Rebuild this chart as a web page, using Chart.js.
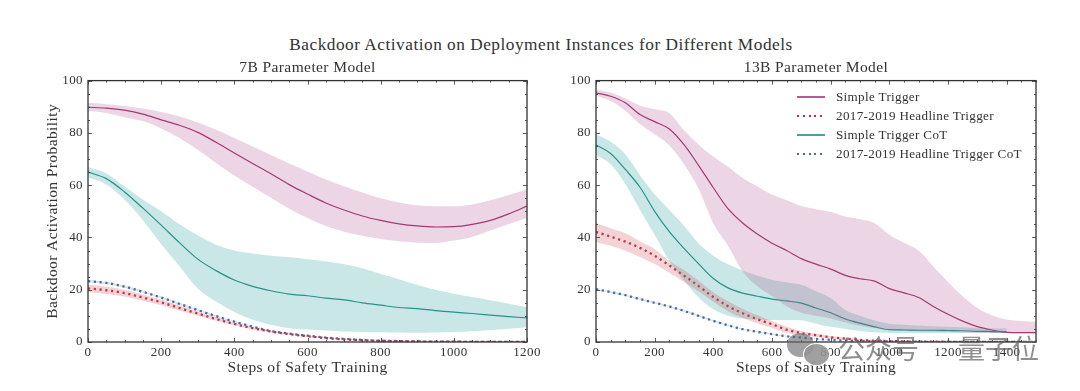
<!DOCTYPE html>
<html lang="en">
<head>
<meta charset="UTF-8">
<title>Backdoor Activation</title>
<script src="https://cdn.jsdelivr.net/npm/chart.js"></script>
<style>
    html, body { margin: 0; padding: 0; background: #fff; }
    body { width: 1080px; height: 391px; position: relative; overflow: hidden; font-family: "Liberation Serif", serif; color: #333; }
    canvas { position: absolute; top: 0; }
    #suptitle { position: absolute; left: 0; width: 1082px; top: 35px; text-align: center; font-size: 17.3px; letter-spacing: 0.5px; line-height: 19px; }
    #legend { position: absolute; left: 797px; top: 87px; font-size: 13.1px; letter-spacing: 0.34px; }
    #legend div.row { height: 19px; line-height: 19px; white-space: nowrap; }
    #legend span.key { display: inline-block; width: 28px; height: 2px; margin-right: 11px; vertical-align: middle; position: relative; top: -1px; }
    .wm { position: absolute; color: rgba(100,100,100,0.72); font-family: "Noto Sans CJK SC"; font-size: 27px; line-height: 30px; top: 333px; }
    .bubble { position: absolute; border-radius: 50%; }
</style>
</head>
<body>
<div id="suptitle">Backdoor Activation on Deployment Instances for Different Models</div>
<canvas id="chart7b" width="550" height="391" style="left:0;width:550px;height:391px"></canvas>
<canvas id="chart13b" width="530" height="391" style="left:550px;width:530px;height:391px"></canvas>
<div id="legend"></div>
<div class="bubble" style="left:787px;top:333px;width:27px;height:24px;background:rgba(105,105,105,0.62)"></div>
<div class="bubble" style="left:803px;top:343px;width:25px;height:21px;background:rgba(150,150,150,0.9);border:1px solid #fff"></div>
<div class="wm" style="left:838px">公众号</div>
<div class="wm" style="left:958px">量子位</div>

<script>
const seriesNames = ['Simple Trigger', '2017-2019 Headline Trigger', 'Simple Trigger CoT', '2017-2019 Headline Trigger CoT'];
const lineColors = ['#a3356f', '#bb2f48', '#1f8a80', '#44709f'];
const bandColors = ['rgba(170,68,135,0.22)', 'rgba(204,70,85,0.24)', 'rgba(60,170,165,0.28)', 'rgba(68,112,160,0.2)'];

// 7B model, one value every 50 steps
const steps7b = [0,50,100,150,200,250,300,350,400,450,500,550,600,650,700,750,800,850,900,950,1000,1050,1100,1150,1200];
const simple7b = [89.8,89.5,88.7,87.2,85,82.9,80.2,76.4,72.3,68.3,64.4,60.2,56.6,53.2,50.5,48.2,46.5,45.2,44.4,44,44.1,45,46.5,49,52];
const simple7bHi = [91.5,91,90.3,89.3,88,86.3,84,81.2,78,74.8,71.5,68.3,65.2,62.2,59.6,57.2,55,53.4,52.3,51.9,51.9,52.6,54.2,56.2,58.4];
const simple7bLo = [88.5,87.6,86,84.5,81.7,78,73.5,68.5,63.7,59.4,55.2,51,47.4,44.4,42.2,40.6,39.4,38.5,38,37.9,38.8,40.2,42.7,45,47.5];
const headline7b = [20.5,19.8,18.7,17,15.2,13,10.9,8.8,6.9,5.3,4,3,2.2,1.5,1,0.7,0.45,0.3,0.2,0.1,0.1,0.05,0,0,0];
const headline7bHi = [22,21.2,20,18.2,16.3,14,11.7,9.5,7.4,5.7,4.3,3.2,2.4,1.6,1.1,0.8,0.5,0.35,0.2,0.1,0.1,0.05,0,0,0];
const headline7bLo = [19,18.4,17.4,15.8,14.1,12,10.1,8.1,6.4,4.9,3.7,2.8,2,1.4,0.9,0.6,0.4,0.25,0.2,0.1,0.1,0.05,0,0,0];
const cot7b = [65,62.5,57.4,51.2,44.7,38,31.7,27.3,23.7,21.3,19.6,18.3,17.7,16.8,16.1,15,14.1,13.2,12.8,12,11.4,10.9,10.3,9.7,9.2];
const cot7bHi = [66.9,64.5,59.5,54.5,50,45,40.8,37.2,35,33.9,33,32.4,31.7,30.8,29.7,28.2,26,24,21.8,20,18.5,17.2,16,14.6,13.3];
const cot7bLo = [63,60.3,54.5,46.6,37.5,29,20.5,15.5,11.5,8.5,6.6,5.3,4.8,4.4,4,3.8,3.7,3.6,3.5,3.6,3.8,4.1,4.6,5.1,5.6];
const headlineCot7b = [23.3,22.6,21.2,19.2,17,14.6,12.2,9.9,7.8,5.9,4.2,3.2,2.4,1.7,1.2,0.8,0.5,0.35,0.2,0.1,0.1,0.05,0,0,0];
const headlineCot7bHi = [23.7,23,21.6,19.6,17.4,15,12.5,10.2,8,6.1,4.4,3.3,2.5,1.8,1.3,0.9,0.55,0.4,0.2,0.1,0.1,0.05,0,0,0];
const headlineCot7bLo = [22.9,22.2,20.8,18.8,16.6,14.2,11.9,9.6,7.6,5.7,4,3.1,2.3,1.6,1.1,0.7,0.45,0.3,0.2,0.1,0.1,0.05,0,0,0];

// 13B model, one value every 50 steps
const steps13b = [0,50,100,150,200,250,300,350,400,450,500,550,600,650,700,750,800,850,900,950,1000,1050,1100,1150,1200,1250,1300,1350,1400,1450,1500];
const simple13b = [95.3,94,91.5,87,84.3,81.5,75.5,67.5,59,51,45.5,41.3,37.8,35,31.9,29.8,27.9,25.5,24.2,23.3,20.4,18.8,17,13.6,10.6,8,5.9,4.6,3.7,3.6,3.6];
const simple13bHi = [96.6,95.4,93.2,90.5,89,87.5,81,75.5,71,67,62.7,59.5,56.4,54.2,52,50.8,49.7,48,47,45.4,41,38,35,28.9,23,17.5,13,10.2,8.6,8,7.7];
const simple13bLo = [94.3,92.2,88.5,83.4,79.5,75.2,68,58.5,45.3,36.8,27,21.3,17.6,13.7,11.2,10,9,7.5,6.2,5.4,4.7,4.3,4,3.9,3.8,3.7,3.6,3.5,3.4,3.3,3.3];
const headline13b = [42.1,40.3,38.4,36,33,29.3,25.4,21.4,17.2,13.7,11,8.7,6.8,4.7,3.4,2.6,1.8,1.3,0.8,0.5,0.35,0.25,0.15,0.1,0.1,0,0,0,0,0,0];
const headline13bHi = [45.5,43.5,41.6,38.5,35.5,31,27.5,23.4,19,15.6,12.7,10.2,8,5.8,4.2,3.2,2.3,1.7,1.1,0.7,0.45,0.3,0.2,0.1,0.1,0,0,0,0,0,0];
const headline13bLo = [38.3,36.8,34.9,32.5,29.8,26.5,23,19.3,15.4,11.8,9.2,7.2,5.4,3.5,2.5,1.9,1.3,0.9,0.5,0.3,0.2,0.15,0.1,0.05,0.05,0,0,0,0,0,0];
const cot13b = [75.4,72.1,66,59.2,50,42.2,35.8,29.9,24.3,20.7,18.7,17.5,16.4,15.7,14.9,13,11.2,8.8,7.2,5.8,4.7,4.6,4.5,4.5,4.4,4.3,4.1,4,3.9,null,null];
const cot13bHi = [79.4,76.6,71.8,63.8,56.5,50.5,44.5,37.7,33,29.7,27.3,25.4,23.8,22.8,21.9,19.4,16.8,12.2,10,8.2,7,6.6,6.3,6,5.8,5.6,5.4,5.3,5.2,null,null];
const cot13bLo = [71.4,68,60.4,50.5,41,31,23.5,17,12.5,10,9,8.5,8.4,8.4,8.3,7,5.8,5,4.2,3.7,3.4,3.4,3.4,3.4,3.4,3.4,3.4,3.4,3.4,null,null];
const headlineCot13b = [20.2,19.1,17.9,16.4,15,13.6,11.9,10,8.1,6.4,4.9,3.9,3,2.2,1.7,1.2,0.8,0.55,0.35,0.25,0.2,0.1,0.1,0.05,0,0,0,0,0,0,0];
const headlineCot13bHi = [20.5,19.4,18.2,16.7,15.3,13.9,12.2,10.3,8.4,6.7,5.1,4.1,3.2,2.4,1.8,1.3,0.9,0.6,0.4,0.3,0.2,0.1,0.1,0.05,0,0,0,0,0,0,0];
const headlineCot13bLo = [19.9,18.8,17.6,16.1,14.7,13.3,11.6,9.7,7.8,6.1,4.7,3.7,2.8,2,1.6,1.1,0.7,0.5,0.3,0.2,0.2,0.1,0.1,0.05,0,0,0,0,0,0,0];

const inkColor = '#333';
const tickFont = { family: 'Liberation Serif', size: 13 };
const labelFont = { family: 'Liberation Serif', size: 15.5 };

function pairs(xs, ys) {
    return xs.map((x, i) => ({ x: x, y: ys[i] }));
}

function buildDatasets(xs, rows) {
    let out = [];
    rows.forEach((row, i) => {
        // band: upper edge fills down to the lower edge right after it
        out.push({ data: pairs(xs, row[1]), borderWidth: 0, pointRadius: 0, backgroundColor: bandColors[i], fill: '+1', cubicInterpolationMode: 'monotone' });
        out.push({ data: pairs(xs, row[2]), borderWidth: 0, pointRadius: 0, fill: false, cubicInterpolationMode: 'monotone' });
    });
    rows.forEach((row, i) => {
        out.push({
            label: seriesNames[i],
            data: pairs(xs, row[0]),
            borderColor: lineColors[i],
            borderWidth: i % 2 ? 2.3 : 1.2,
            borderDash: i % 2 ? [2.2, 3.6] : [],
            pointRadius: 0,
            fill: false,
            cubicInterpolationMode: 'monotone'
        });
    });
    return out;
}

// spines and inward ticks on all four sides, placed through the scales
const frame = {
    id: 'frame',
    beforeDraw(chart) {
        chart.ctx.letterSpacing = '0.4px';
    },
    afterDatasetsDraw(chart) {
        const { ctx, chartArea: a, scales: { x, y } } = chart;
        ctx.save();
        ctx.strokeStyle = inkColor;
        ctx.lineWidth = 0.8;
        ctx.beginPath();
        for (let v = 0; v <= x.max; v += 50) {
            const p = Math.round(x.getPixelForValue(v)) + 0.5;
            const len = v % 200 === 0 ? 4 : 2;
            ctx.moveTo(p, a.bottom); ctx.lineTo(p, a.bottom - len);
            ctx.moveTo(p, a.top); ctx.lineTo(p, a.top + len);
        }
        for (let v = 0; v <= 100; v += 5) {
            const p = Math.round(y.getPixelForValue(v)) + 0.5;
            const len = v % 20 === 0 ? 4 : 2;
            ctx.moveTo(a.left, p); ctx.lineTo(a.left + len, p);
            ctx.moveTo(a.right, p); ctx.lineTo(a.right - len, p);
        }
        ctx.stroke();
        ctx.lineWidth = 1.3;
        ctx.strokeRect(a.left, a.top, a.right - a.left, a.bottom - a.top);
        ctx.restore();
    }
};

function makeChart(id, title, xs, rows, xMax, yWidth, pad, yTitle) {
    return new Chart(document.getElementById(id), {
        type: 'line',
        data: { datasets: buildDatasets(xs, rows) },
        plugins: [frame],
        options: {
            responsive: false,
            animation: false,
            spanGaps: false,
            layout: { padding: pad },
            plugins: {
                legend: { display: false },
                tooltip: { enabled: false },
                title: {
                    display: true, text: title, color: inkColor, fullSize: false,
                    font: { family: 'Liberation Serif', size: 15.5, weight: 'normal' },
                    padding: { top: 0, bottom: 3 }
                }
            },
            scales: {
                x: {
                    type: 'linear', min: 0, max: xMax,
                    grid: { display: false, drawTicks: false },
                    border: { display: false },
                    ticks: { stepSize: 200, includeBounds: false, maxRotation: 0, padding: 3, color: inkColor, font: tickFont, format: { useGrouping: false } },
                    title: { display: true, text: 'Steps of Safety Training', color: inkColor, font: labelFont, padding: 0 },
                    afterFit(scale) { scale.height = 35; }
                },
                y: {
                    min: 0, max: 100,
                    grid: { display: false, drawTicks: false },
                    border: { display: false },
                    ticks: { stepSize: 20, padding: 5, color: inkColor, font: tickFont },
                    title: { display: yTitle, text: 'Backdoor Activation Probability', color: inkColor, font: labelFont, padding: 0 },
                    afterFit(scale) { scale.width = yWidth; }
                }
            }
        }
    });
}

makeChart('chart7b', '7B Parameter Model', steps7b, [
    [simple7b, simple7bHi, simple7bLo],
    [headline7b, headline7bHi, headline7bLo],
    [cot7b, cot7bHi, cot7bLo],
    [headlineCot7b, headlineCot7bHi, headlineCot7bLo]
], 1200, 44, { top: 59, left: 44, right: 23, bottom: 14 }, true);

makeChart('chart13b', '13B Parameter Model', steps13b, [
    [simple13b, simple13bHi, simple13bLo],
    [headline13b, headline13bHi, headline13bLo],
    [cot13b, cot13bHi, cot13bLo],
    [headlineCot13b, headlineCot13bHi, headlineCot13bLo]
], 1500, 46, { top: 59, left: 0, right: 44, bottom: 14 }, false);

let legendBox = document.getElementById('legend');
seriesNames.forEach((name, i) => {
    let row = document.createElement('div');
    row.className = 'row';
    let key = document.createElement('span');
    key.className = 'key';
    key.style.background = i % 2
        ? 'repeating-linear-gradient(90deg,' + lineColors[i] + ' 0 2px,transparent 2px 5.8px)'
        : lineColors[i];
    if (!(i % 2)) { key.style.height = '1.3px'; key.style.opacity = 0.8; }
    row.appendChild(key);
    row.appendChild(document.createTextNode(name));
    legendBox.appendChild(row);
});
</script>
</body>
</html>
